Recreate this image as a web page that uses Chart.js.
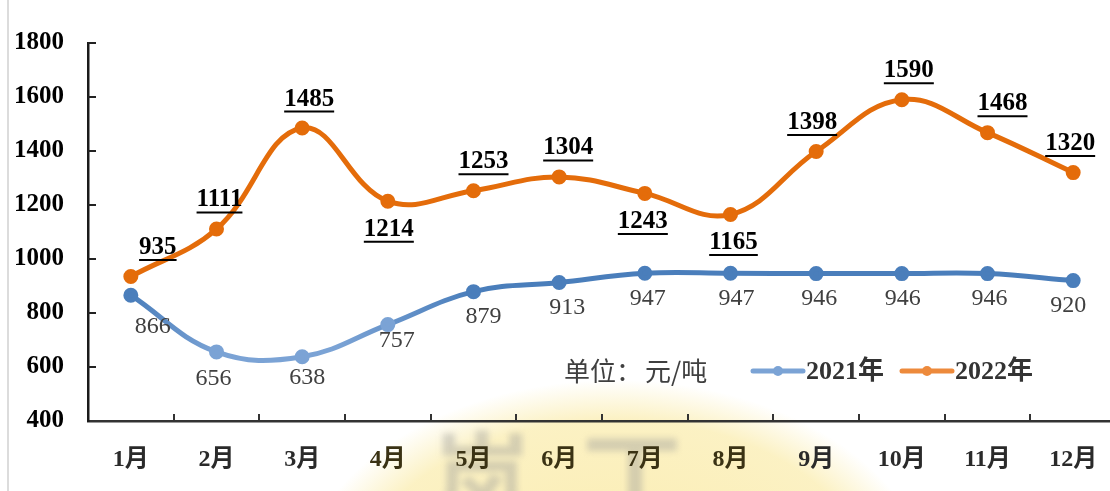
<!DOCTYPE html>
<html>
<head>
<meta charset="utf-8">
<script src="https://cdn.jsdelivr.net/npm/chart.js@4.4.1/dist/chart.umd.min.js"></script>
<style>
html, body { margin: 0; padding: 0; background: #fff; overflow: hidden; }
#wrap {
    position: relative;
    width: 1126px;
    height: 491px;
    overflow: hidden;
    background: radial-gradient(ellipse 320px 220px at 615px 600px, rgba(250,234,165,0.9) 0%, rgba(251,239,185,0.85) 82%, rgba(255,255,255,0) 100%);
}
#wrap:before {
    content: "";
    position: absolute;
    left: 7px; top: 0; bottom: 0;
    border-left: 2px solid #dcdcdc;
}
#mark {
    position: absolute;
    left: 432px; top: 400px;
    font: bold 100px 'Noto Sans CJK SC', sans-serif;
    letter-spacing: 50px;
    color: rgba(150,150,150,0.38);
    filter: blur(3px);
    white-space: nowrap;
}
canvas { position: relative; }
</style>
</head>
<body>
<div id="wrap"><div id="mark">岚丁</div><canvas id="myChart" width="1126" height="491"></canvas></div>
<script>
var months = ["1月","2月","3月","4月","5月","6月","7月","8月","9月","10月","11月","12月"];
var yMin = 400, yMax = 1800, yStep = 200;
var price2021 = [866, 656, 638, 757, 879, 913, 947, 947, 946, 946, 946, 920];
var price2022 = [935, 1111, 1485, 1214, 1253, 1304, 1243, 1165, 1398, 1590, 1468, 1320];
// where the 2022 labels sit relative to the point
var side2022 = ["up","up","up","down","up","up","down","down","up","up","up","up"];
var nudge2022 = [27, 3, 7, 1, 10, 9, -2, 3, -4, 7, 15, -3];
var nudge2021 = [22, -3, 5, 9, 10, 8, 3, 6, 3, 1, 2, -5];

var blueDark = "#4a7ebb", blueLight = "#7ba3d5", orange = "#e46c0a";
var serif = "'Liberation Serif', 'Times New Roman', serif";

function blueGradient(context) {
    var chart = context.chart;
    var xs = chart.scales.x;
    if (!chart.chartArea || !xs) return blueDark;
    var x0 = xs.getPixelForValue(0), x4 = xs.getPixelForValue(4);
    var g = chart.ctx.createLinearGradient(x0, 0, x4, 0);
    g.addColorStop(0, blueDark);
    g.addColorStop(0.25, blueLight);
    g.addColorStop(0.6, blueLight);
    g.addColorStop(1, blueDark);
    return g;
}
function bluePoint(context) {
    var i = context.dataIndex;
    return (i >= 1 && i <= 3) ? blueLight : blueDark;
}

var insideTicks = {
    id: "insideTicks",
    afterDraw: function (chart) {
        var ctx = chart.ctx, a = chart.chartArea;
        var ys = chart.scales.y;
        ctx.save();
        ctx.strokeStyle = "#222";
        ctx.lineWidth = 2;
        for (var v = yMin + yStep; v <= yMax; v += yStep) {
            var y = Math.round(ys.getPixelForValue(v));
            ctx.beginPath();
            ctx.moveTo(a.left, y);
            ctx.lineTo(a.left + 8, y);
            ctx.stroke();
        }
        var w = (a.right - a.left) / months.length;
        ctx.strokeStyle = "#333";
        for (var i = 1; i < months.length; i++) {
            var x = Math.round(a.left + i * w);
            ctx.beginPath();
            ctx.moveTo(x, a.bottom);
            ctx.lineTo(x, a.bottom - 7);
            ctx.stroke();
        }
        ctx.restore();
    }
};

var valueLabels = {
    id: "valueLabels",
    afterDatasetsDraw: function (chart) {
        var ctx = chart.ctx;
        ctx.save();
        ctx.textAlign = "center";
        ctx.textBaseline = "middle";

        var m0 = chart.getDatasetMeta(0);
        ctx.font = "24px " + serif;
        ctx.fillStyle = "#404040";
        m0.data.forEach(function (pt, i) {
            var dy = i < 4 ? [32, 27, 21, 16][i] : 25;
            ctx.fillText(String(price2021[i]), pt.x + nudge2021[i], pt.y + dy);
        });

        var m1 = chart.getDatasetMeta(1);
        ctx.font = "bold 25px " + serif;
        ctx.fillStyle = "#000";
        ctx.strokeStyle = "#000";
        ctx.lineWidth = 2;
        m1.data.forEach(function (pt, i) {
            var txt = String(price2022[i]);
            var cx = pt.x + nudge2022[i];
            var cy = side2022[i] === "up" ? pt.y - 29 : pt.y + 28;
            ctx.fillText(txt, cx, cy);
            var tw = ctx.measureText(txt).width;
            ctx.beginPath();
            ctx.moveTo(cx - tw / 2, cy + 12.5);
            ctx.lineTo(cx + tw / 2, cy + 12.5);
            ctx.stroke();
        });
        ctx.restore();
    }
};

var unitLegend = {
    id: "unitLegend",
    afterDraw: function (chart) {
        var ctx = chart.ctx;
        var y = 371;
        ctx.save();
        ctx.textBaseline = "middle";
        ctx.textAlign = "left";
        ctx.fillStyle = "#404040";
        ctx.font = "26px 'Noto Sans CJK SC', sans-serif";
        ctx.fillText("单位：", 564, y);
        ctx.fillText("元/吨", 645, y);

        var items = [
            { x: 753, color: blueLight, text: "2021年" },
            { x: 902, color: "#ed8a3c", text: "2022年" }
        ];
        items.forEach(function (it) {
            ctx.strokeStyle = it.color;
            ctx.lineWidth = 5;
            ctx.lineCap = "round";
            ctx.beginPath();
            ctx.moveTo(it.x, y);
            ctx.lineTo(it.x + 50, y);
            ctx.stroke();
            ctx.fillStyle = it.color;
            ctx.beginPath();
            ctx.arc(it.x + 25, y, 5, 0, Math.PI * 2);
            ctx.fill();
            ctx.fillStyle = "#333";
            ctx.font = "bold 26px " + serif + ", 'Noto Sans CJK SC'";
            ctx.fillText(it.text, it.x + 53, y + 1);
        });
        ctx.restore();
    }
};

var ctx = document.getElementById("myChart").getContext("2d");
var myChart = new Chart(ctx, {
    type: "line",
    data: {
        labels: months,
        datasets: [
            {
                label: "2021年",
                data: price2021,
                borderColor: blueGradient,
                backgroundColor: bluePoint,
                pointBackgroundColor: bluePoint,
                pointBorderColor: bluePoint,
                borderWidth: 5,
                pointRadius: 5,
                tension: 0.4,
                fill: false
            },
            {
                label: "2022年",
                data: price2022,
                borderColor: orange,
                backgroundColor: orange,
                pointBackgroundColor: orange,
                pointBorderColor: orange,
                borderWidth: 5,
                pointRadius: 5,
                tension: 0.4,
                fill: false
            }
        ]
    },
    options: {
        responsive: false,
        animation: false,
        layout: { padding: { top: 43, right: 2, left: 0, bottom: 0 } },
        plugins: {
            legend: { display: false },
            tooltip: { enabled: false }
        },
        scales: {
            x: {
                offset: true,
                grid: { display: true, offset: true, drawOnChartArea: false, drawTicks: false },
                border: { display: true, color: "#333", width: 2.5 },
                ticks: {
                    padding: 24,
                    // labels over the yellow watermark look brownish
                    color: function (c) { return (c.index >= 3 && c.index <= 7) ? "#3a3214" : "#2a2a2a"; },
                    font: { family: serif + ", 'Noto Sans CJK SC'", size: 24, weight: "bold" }
                },
                afterFit: function (scale) { scale.height = 70; }
            },
            y: {
                min: yMin,
                max: yMax,
                grid: { display: true, drawOnChartArea: false, drawTicks: false },
                border: { display: true, color: "#1a1a1a", width: 2.5 },
                ticks: {
                    stepSize: yStep,
                    padding: 24,
                    color: "#000",
                    font: { family: serif, size: 25, weight: "bold" },
                    callback: function (value) { return String(value); }
                },
                afterFit: function (scale) { scale.width = 88; }
            }
        }
    },
    plugins: [insideTicks, valueLabels, unitLegend]
});
</script>
</body>
</html>
